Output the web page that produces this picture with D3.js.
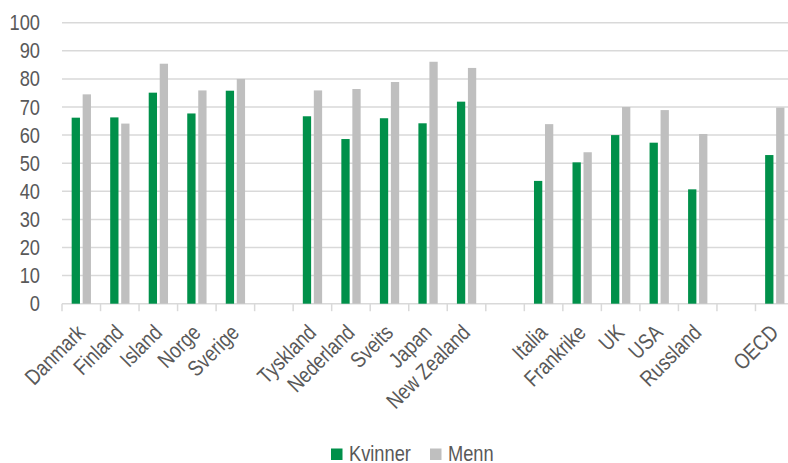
<!DOCTYPE html>
<html>
<head>
<meta charset="utf-8">
<script src="https://cdn.jsdelivr.net/npm/d3@7/dist/d3.min.js"></script>
<style>
  html, body { margin: 0; padding: 0; background: #fff; overflow: hidden; }
  text { font-family: "Liberation Sans", Arial, sans-serif; fill: #595959; }
</style>
</head>
<body>
<svg id="chart" width="788" height="463"></svg>
<script>
const categories = ["Danmark","Finland","Island","Norge","Sverige","",
  "Tyskland","Nederland","Sveits","Japan","New Zealand","",
  "Italia","Frankrike","UK","USA","Russland","","OECD"];
const kvinner = [66.2,66.3,75.1,67.7,75.8,null,66.7,58.6,66.0,64.2,71.9,null,43.7,50.3,60.0,57.3,40.7,null,52.9];
const menn    = [74.5,64.1,85.4,75.9,80.0,null,75.9,76.4,78.9,86.1,83.9,null,63.9,53.9,70.0,68.9,60.4,null,69.8];
const yTicks = [0,10,20,30,40,50,60,70,80,90,100];
const seriesNames = ["Kvinner","Menn"];
const colors = ["#00904a","#bfbfbf"];

const svg = d3.select("#chart");
const plotLeft = 62, plotRight = 794, plotTop = 22.7, plotBottom = 303.7;
const narrow = 0.83;

const x = d3.scaleBand().domain(d3.range(categories.length)).range([plotLeft, plotRight]).paddingInner(0).paddingOuter(0);
const y = d3.scaleLinear().domain([0,100]).range([plotBottom, plotTop]);

// gridlines
svg.append("g").selectAll("line").data(yTicks).join("line")
  .attr("x1", plotLeft).attr("x2", 800)
  .attr("y1", d => y(d)).attr("y2", d => y(d))
  .attr("stroke", "#d9d9d9").attr("stroke-width", 1.5);

// y axis labels
const yAxis = d3.axisLeft(y).tickValues(yTicks).tickSize(0).tickPadding(0);
const yg = svg.append("g").attr("transform", `translate(40,0)`).call(yAxis);
yg.select(".domain").remove();
yg.selectAll("text")
  .attr("font-size", 22).attr("fill", "#595959")
  .attr("transform", `scale(${narrow},1)`)
  .style("font-family", '"Liberation Sans", Arial, sans-serif');

// x axis tick marks at boundaries
const boundaries = d3.range(categories.length + 1).map(i => i < categories.length ? x(i) : plotRight);
svg.append("g").selectAll("line").data(boundaries).join("line")
  .attr("x1", d => d).attr("x2", d => d)
  .attr("y1", plotBottom).attr("y2", plotBottom + 7.5)
  .attr("stroke", "#d9d9d9").attr("stroke-width", 1.5);

// bars
const bw = 8.3;
const series = [kvinner, menn];
series.forEach((vals, si) => {
  svg.append("g").selectAll("rect")
    .data(vals.map((v, i) => ({v, i})).filter(d => d.v !== null))
    .join("rect")
    .attr("x", d => x(d.i) + x.bandwidth()/2 + (si === 0 ? -9.6 : 1.4))
    .attr("width", bw)
    .attr("y", d => y(d.v))
    .attr("height", d => y(0) - y(d.v))
    .attr("fill", colors[si]);
});

// x labels
svg.append("g").selectAll("text")
  .data(categories.map((c, i) => ({c, i})).filter(d => d.c !== ""))
  .join("text")
  .attr("transform", d => `translate(${x(d.i) + x.bandwidth()/2 + 5},${334}) rotate(-45) scale(${narrow},1)`)
  .attr("text-anchor", "end")
  .attr("font-size", 22)
  .text(d => d.c);

// legend
const legend = svg.append("g");
const legendItems = [{name: seriesNames[0], color: colors[0], x: 331}, {name: seriesNames[1], color: colors[1], x: 430}];
legendItems.forEach(it => {
  legend.append("rect").attr("x", it.x).attr("y", 448.5).attr("width", 11.5).attr("height", 11.5).attr("fill", it.color);
  legend.append("text").attr("transform", `translate(${it.x + 18},460.5) scale(${narrow},1)`).attr("font-size", 22).text(it.name);
});
</script>
</body>
</html>
